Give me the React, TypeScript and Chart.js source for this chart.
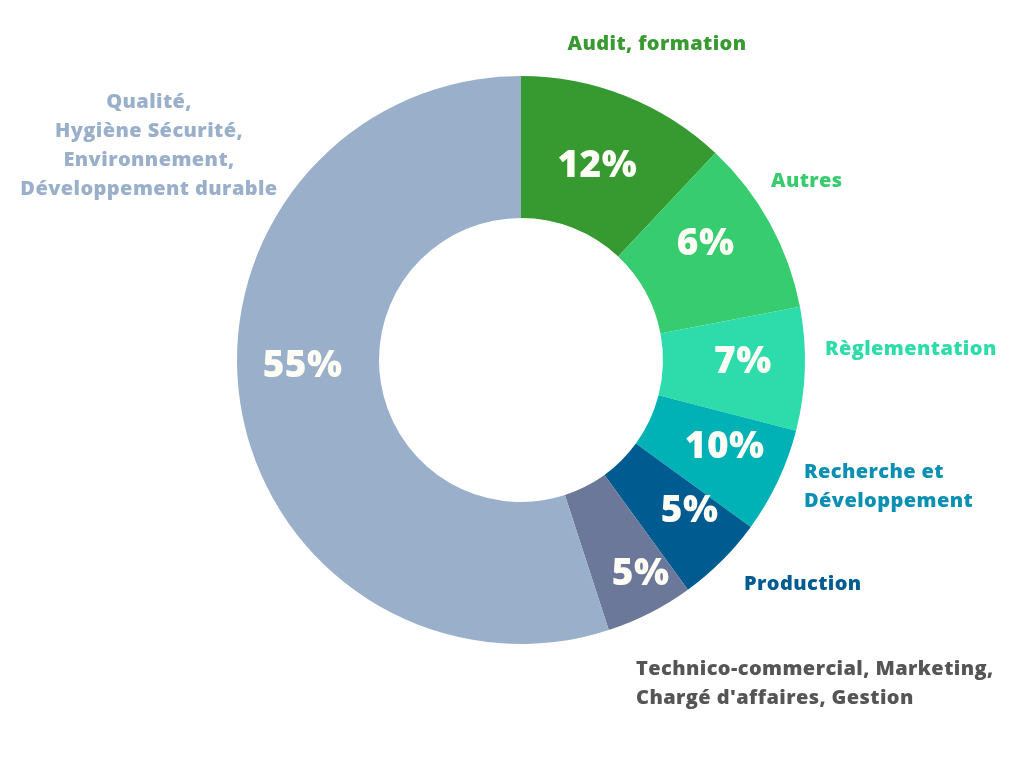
import React, { useEffect, useRef } from "react";
import { Chart, registerables } from "chart.js";

Chart.register(...registerables);

const categories: string[][] = [
  ["Audit, formation"],
  ["Autres"],
  ["Règlementation"],
  ["Recherche et", "Développement"],
  ["Production"],
  ["Technico-commercial, Marketing,", "Chargé d'affaires, Gestion"],
  ["Qualité,", "Hygiène Sécurité,", "Environnement,", "Développement durable"],
];
// slice sizes as drawn in the picture
const shares: number[] = [12, 10, 7, 6, 5, 5, 55];
// percentage texts as printed in the picture
const percentLabels: string[] = ["12%", "6%", "7%", "10%", "5%", "5%", "55%"];

const sliceColors = ["#379a30", "#37cc70", "#2ddcaa", "#00b2b6", "#005b91", "#6b7899", "#9ab0ca"];
const textColors = ["#389a31", "#38cc6e", "#2edcaa", "#0b8fb2", "#005b91", "#555555", "#9ab0ca"];
// label anchor offsets from chart centre (x, y of first line), and alignment
const labelPlace: { dx: number; dy: number; align: CanvasTextAlign }[] = [
  { dx: 136, dy: -316, align: "center" },
  { dx: 250, dy: -179, align: "left" },
  { dx: 304, dy: -11, align: "left" },
  { dx: 283, dy: 112, align: "left" },
  { dx: 223, dy: 224, align: "left" },
  { dx: 115, dy: 309, align: "left" },
  { dx: -372, dy: -258, align: "center" },
];
const pctOffset: { dx: number; dy: number }[] = [
  { dx: -2, dy: 3 },
  { dx: -2, dy: -14 },
  { dx: 9, dy: -5 },
  { dx: 11, dy: -4 },
  { dx: 18, dy: 0 },
  { dx: 23, dy: 24 },
  { dx: -8, dy: -28 },
];

const labelPlugin = {
  id: "labels",
  afterDatasetsDraw(chart: any) {
    const ctx = chart.ctx as any;
    const meta = chart.getDatasetMeta(0);
    const ca = chart.chartArea;
    const cx = (ca.left + ca.right) / 2;
    const cy = (ca.top + ca.bottom) / 2;
    ctx.save();
    ctx.textBaseline = "middle";
    meta.data.forEach((arc: any, i: number) => {
      const p = arc.tooltipPosition();
      ctx.fillStyle = "#fdfdf6";
      ctx.letterSpacing = "0.5px";
      ctx.font = "800 37px 'Open Sans', 'Noto Sans', sans-serif";
      ctx.textAlign = "center";
      ctx.fillText(percentLabels[i], p.x + pctOffset[i].dx, p.y + pctOffset[i].dy + 1);

      const lp = labelPlace[i];
      ctx.fillStyle = textColors[i];
      ctx.letterSpacing = "0.4px";
      ctx.font = "800 20px 'Open Sans', 'Noto Sans', sans-serif";
      ctx.textAlign = lp.align;
      categories[i].forEach((line: string, k: number) => {
        ctx.fillText(line, cx + lp.dx, cy + lp.dy + k * 29);
      });
    });
    ctx.restore();
  },
};

export default function App() {
  const ref = useRef<HTMLCanvasElement>(null);
  useEffect(() => {
    document.body.style.margin = "0";
    const chart = new Chart(ref.current!, {
      type: "doughnut",
      data: {
        labels: categories.map((c) => c.join(" ")),
        datasets: [
          {
            data: shares,
            backgroundColor: sliceColors,
            borderWidth: 0,
          },
        ],
      },
      options: {
        animation: false,
        responsive: false,
        cutout: "50%",
        layout: { padding: { top: 76, bottom: 124, left: 237, right: 219 } },
        plugins: { legend: { display: false }, tooltip: { enabled: false } },
      },
      plugins: [labelPlugin],
    });
    return () => chart.destroy();
  }, []);
  return (
    <div style={{ width: 1024, height: 768, background: "#fff" }}>
      <canvas ref={ref} width={1024} height={768} />
    </div>
  );
}
